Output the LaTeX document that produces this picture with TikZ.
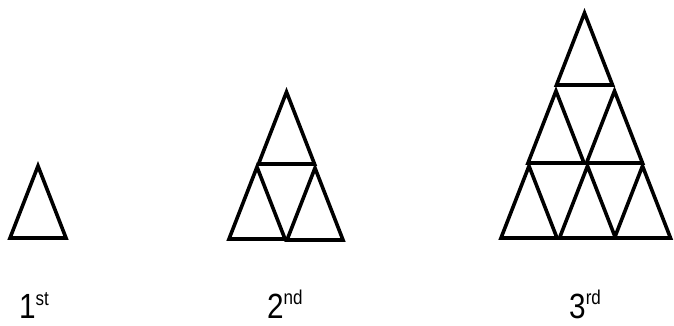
\documentclass[tikz,border=0pt]{standalone}
\usepackage{fontspec}
\setmainfont{Liberation Sans}
\newfontfamily\labelfont[FakeStretch=0.85]{Liberation Sans}

\begin{document}
\begin{tikzpicture}[
    x=1pt, y=-1pt,
    tri/.style={draw, line width=3.6pt, line join=miter},
    ordinal/.style={anchor=base west, inner sep=0pt, font=\labelfont\fontsize{35}{38}\selectfont},
]
  \useasboundingbox (0,0) rectangle (674,326);
  % 1st stage
  \foreach \bx/\by in {38/238}
    \draw[tri] (\bx-28,\by) -- (\bx,\by-72) -- (\bx+28,\by) -- cycle;
  % 2nd stage
  \foreach \bx/\by in {286.5/164, 257/239, 315/240}
    \draw[tri] (\bx-28,\by) -- (\bx,\by-72) -- (\bx+28,\by) -- cycle;
  % 3rd stage
  \foreach \bx/\by in {584.5/85, 556/163, 614.5/163, 529/238, 587.5/238, 642.5/238}
    \draw[tri] (\bx-28,\by) -- (\bx,\by-72) -- (\bx+28,\by) -- cycle;
  % labels
  \node[ordinal] (first) at (19,318) {1\raisebox{13pt}{\fontsize{20}{22}\selectfont st}};
  \node[ordinal] (second) at (267,318) {2\raisebox{14pt}{\fontsize{20}{22}\selectfont nd}};
  \node[ordinal] (third) at (569,318) {3\raisebox{14pt}{\fontsize{20}{22}\selectfont rd}};
\end{tikzpicture}
\end{document}
